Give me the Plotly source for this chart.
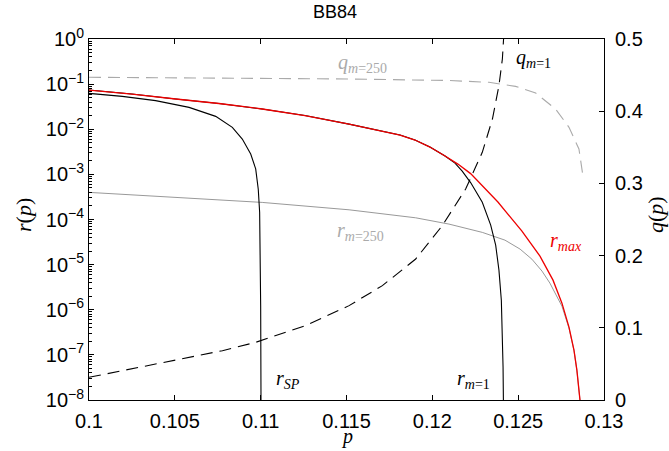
import plotly.graph_objects as go

# ---------------- data ----------------
p_rmax = [0.1000, 0.1025, 0.10505, 0.10757, 0.11009, 0.11258, 0.11515, 0.11707, 0.11812,
          0.11899, 0.11986, 0.12074, 0.12149, 0.12223, 0.12382, 0.12522, 0.12627, 0.12703,
          0.12755, 0.12796, 0.12825, 0.12842, 0.12854, 0.12860, 0.12864]
r_rmax = [0.0740, 0.0603, 0.0468, 0.0372, 0.0281, 0.0201, 0.0130, 0.00912, 0.00743,
          0.00577, 0.00403, 0.00255, 0.00169, 0.00104, 2.44e-4, 5.53e-5, 1.54e-5, 4.53e-6,
          1.40e-6, 4.11e-7, 1.27e-7, 4.58e-8, 1.65e-8, 1.0e-8, 3.0e-9]

p_rm1 = [0.1000, 0.1025, 0.10505, 0.10757, 0.11009, 0.11258, 0.11515, 0.11707, 0.11812,
         0.11899, 0.11986, 0.12074, 0.12132, 0.12174, 0.12223, 0.12291, 0.12340, 0.12369,
         0.12388, 0.12402, 0.12409, 0.12412, 0.12414, 0.124145]
r_rm1 = [0.0740, 0.0603, 0.0468, 0.0372, 0.0281, 0.0201, 0.0130, 0.00912, 0.00743,
         0.00577, 0.00403, 0.00255, 0.00178, 0.00118, 6.58e-4, 2.40e-4, 7.52e-5, 2.71e-5,
         7.55e-6, 1.63e-6, 3.03e-7, 5.33e-8, 1.0e-8, 3.0e-9]

p_rsp = [0.1000, 0.10194, 0.10388, 0.10583, 0.10738, 0.10835, 0.10893, 0.10942,
         0.10971, 0.10986, 0.10994, 0.10998, 0.11000, 0.11002, 0.110025]
r_rsp = [0.0624, 0.0536, 0.0430, 0.0305, 0.0193, 0.0110, 0.00607, 0.00282,
         0.00132, 4.68e-4, 1.45e-4, 1.58e-5, 1.23e-6, 1.0e-8, 1.0e-9]

p_r250 = [0.1000, 0.10505, 0.11009, 0.11515, 0.11903, 0.12097, 0.12291, 0.12423,
          0.12511, 0.12580, 0.12639, 0.12685, 0.12720, 0.12755, 0.12796, 0.12825,
          0.12842, 0.12854, 0.12860, 0.12863]
r_r250 = [3.99e-4, 3.09e-4, 2.39e-4, 1.64e-4, 1.09e-4, 7.91e-5, 5.18e-5, 3.49e-5,
          2.21e-5, 1.32e-5, 7.18e-6, 3.89e-6, 2.22e-6, 1.20e-6, 3.91e-7, 1.27e-7,
          4.58e-8, 1.65e-8, 1.0e-8, 3.0e-9]

p_q1 = [0.1000, 0.1035, 0.10583, 0.10777, 0.10971, 0.11262, 0.11515, 0.11709,
        0.11903, 0.12058, 0.12194, 0.12291, 0.12350, 0.12388, 0.12408, 0.12420]
q_q1 = [0.0314, 0.0476, 0.0591, 0.0683, 0.0799, 0.1030, 0.1307, 0.1584,
        0.1953, 0.2415, 0.2922, 0.3430, 0.3892, 0.4354, 0.4723, 0.5200]

p_q250 = [0.1000, 0.1050, 0.1100, 0.11515, 0.12097, 0.12330, 0.12485, 0.12602,
          0.12718, 0.12796, 0.12854, 0.12880]
q_q250 = [0.4470, 0.4462, 0.4455, 0.4446, 0.4425, 0.4400, 0.4344, 0.4252,
          0.4030, 0.3777, 0.3476, 0.3061]

log_tick_vals = [1e-8, 1e-7, 1e-6, 1e-5, 1e-4, 1e-3, 1e-2, 1e-1, 1e0]
log_tick_text = ["10<sup>−8</sup>", "10<sup>−7</sup>", "10<sup>−6</sup>", "10<sup>−5</sup>",
                 "10<sup>−4</sup>", "10<sup>−3</sup>", "10<sup>−2</sup>", "10<sup>−1</sup>",
                 "10<sup>0</sup>"]
q_tick_vals = [0, 0.1, 0.2, 0.3, 0.4, 0.5]
x_tick_vals = [0.1, 0.105, 0.11, 0.115, 0.12, 0.125, 0.13]
x_tick_text = ["0.1", "0.105", "0.11", "0.115", "0.12", "0.125", "0.13"]

# ---------------- figure ----------------
W, H = 669, 451
L, R, T, B = 89, 65, 39, 51
SANS = "Liberation Sans, Arial, sans-serif"
SERIF = "Liberation Serif, Times New Roman, serif"
DASH = "12px,7px"

fig = go.Figure()
fig.add_trace(go.Scatter(x=p_r250, y=r_r250, mode="lines",
                         line=dict(color="#999999", width=1), yaxis="y"))
fig.add_trace(go.Scatter(x=p_rsp, y=r_rsp, mode="lines",
                         line=dict(color="black", width=1.1), yaxis="y"))
fig.add_trace(go.Scatter(x=p_rm1, y=r_rm1, mode="lines",
                         line=dict(color="black", width=1.1), yaxis="y"))
fig.add_trace(go.Scatter(x=p_rmax, y=r_rmax, mode="lines",
                         line=dict(color="#ee0000", width=1.3), yaxis="y"))
fig.add_trace(go.Scatter(x=p_q250, y=q_q250, mode="lines",
                         line=dict(color="#aaaaaa", width=1.1, dash=DASH), yaxis="y2"))
fig.add_trace(go.Scatter(x=p_q1, y=q_q1, mode="lines",
                         line=dict(color="black", width=1.1, dash=DASH), yaxis="y2"))

minor_vals = [m * 10.0 ** k for k in range(-8, 0) for m in range(2, 10)]

fig.update_layout(
    width=W, height=H,
    margin=dict(l=L, r=R, t=T, b=B, pad=0),
    paper_bgcolor="white", plot_bgcolor="white",
    showlegend=False,
    font=dict(family=SANS, size=20, color="black"),
    xaxis=dict(range=[0.1, 0.13], tickvals=x_tick_vals, ticktext=x_tick_text,
               ticks="inside", ticklen=5, tickcolor="black", automargin=False,
               ticklabelstandoff=3,
               showline=True, linecolor="black", linewidth=1, mirror="ticks",
               showgrid=False, zeroline=False,
               tickfont=dict(family=SANS, size=20)),
    yaxis=dict(type="log", range=[-8, 0], tickvals=log_tick_vals, ticktext=log_tick_text,
               ticks="inside", ticklen=5, tickcolor="black", automargin=False,
               minor=dict(tickvals=minor_vals, ticks="inside", ticklen=3, tickcolor="black"),
               showline=True, linecolor="black", linewidth=1,
               showgrid=False, zeroline=False,
               tickfont=dict(family=SANS, size=20)),
    yaxis2=dict(range=[0, 0.5], tickvals=q_tick_vals, overlaying="y", side="right",
                ticks="inside", ticklen=5, tickcolor="black", automargin=False,
                ticklabelstandoff=6,
                showline=True, linecolor="black", linewidth=1,
                showgrid=False, zeroline=False,
                tickfont=dict(family=SANS, size=20)),
)

def px(x):
    return (x - L) / (W - L - R)

def py(y):
    return (H - B - y) / (H - T - B)

annos = [
    ("BB84", 335, 12, "black", SANS, 18, 0),
    ("<i>r</i>(<i>p</i>)", 23, 215, "black", SERIF, 22, -90),
    ("<i>q</i>(<i>p</i>)", 655, 215, "black", SERIF, 22, -90),
    ("<i>p</i>", 347, 437, "black", SERIF, 20, 0),
    ("<i>q</i><sub><i>m</i>=250</sub>", 362, 63, "#aaaaaa", SERIF, 20, 0),
    ("<i>q</i><sub><i>m</i>=1</sub>", 533, 58, "black", SERIF, 20, 0),
    ("<i>r</i><sub><i>m</i>=250</sub>", 360, 231, "#aaaaaa", SERIF, 20, 0),
    ("<i>r</i><sub><i>max</i></sub>", 566, 241, "#ee0000", SERIF, 20, 0),
    ("<i>r</i><sub><i>SP</i></sub>", 288, 379, "black", SERIF, 20, 0),
    ("<i>r</i><sub><i>m</i>=1</sub>", 473, 379, "black", SERIF, 20, 0),
]
for text, x, y, col, fam, size, ang in annos:
    fig.add_annotation(text=text, x=px(x), y=py(y), xref="paper", yref="paper",
                       showarrow=False, xanchor="center", yanchor="middle",
                       textangle=ang, font=dict(family=fam, size=size, color=col))

fig.write_html("out.html",
               config={"displayModeBar": False},
               post_script="document.body.style.margin='0';"
                           "document.body.style.overflow='hidden';")
